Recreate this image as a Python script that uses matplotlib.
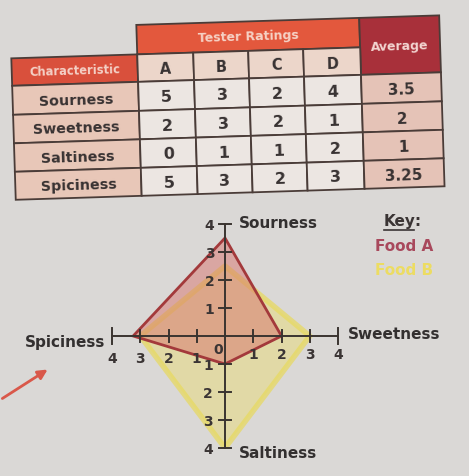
import matplotlib
matplotlib.use('Agg')
import matplotlib.pyplot as plt
from matplotlib.patches import Rectangle, Polygon
from matplotlib.transforms import Affine2D

# ---------------- data ----------------
characteristics = ['Sourness', 'Sweetness', 'Saltiness', 'Spiciness']
testers = ['A', 'B', 'C', 'D']
tester_a = [5, 2, 0, 5]
tester_b = [3, 3, 1, 3]
tester_c = [2, 2, 1, 2]
tester_d = [4, 1, 2, 3]
average_labels = ['3.5', '2', '1', '3.25']
food_a = [3.5, 2, 1, 3.25]      # sourness, sweetness, saltiness, spiciness
food_b = [2.5, 3, 4, 3]
axis_ticks = [1, 2, 3, 4]
foods = ['Food A', 'Food B']

W, H = 469, 477
fig = plt.figure(figsize=(W / 100, H / 100), dpi=100)
fig.patch.set_facecolor('#dad8d6')

# ---------------- table (pixel-coordinate axes) ----------------
bg = fig.add_axes([0, 0, 1, 1])
bg.set_xlim(0, W)
bg.set_ylim(H, 0)
bg.axis('off')
rot = Affine2D().rotate_deg_around(230, 110, -1.8) + bg.transData
EDGE = '#4a3c38'
DARK = '#383232'


def cell(x0, y0, x1, y1, fc):
    bg.add_patch(Rectangle((x0, y0), x1 - x0, y1 - y0, facecolor=fc,
                           edgecolor=EDGE, linewidth=1.3, transform=rot))


def txt(x, y, s, color=DARK, size=10):
    bg.text(x, y, s, color=color, fontsize=size, fontweight='bold',
            ha='center', va='center', rotation=1.8, rotation_mode='anchor',
            transform=rot)


col_x = [13, 139, 195, 250, 305, 362, 442]
row_y = [80, 109, 137.5, 166, 194]
top_y, head_y = 23, 52.5

cell(col_x[1], top_y, col_x[5], head_y, '#e3583d')
txt((col_x[1] + col_x[5]) / 2, (top_y + head_y) / 2, 'Tester Ratings', '#f6d2c6', 9)
cell(col_x[5], top_y, col_x[6], row_y[0], '#a8303a')
txt((col_x[5] + col_x[6]) / 2, (top_y + row_y[0]) / 2, 'Average', '#f3d6d2', 9)
cell(col_x[0], head_y, col_x[1], row_y[0], '#d9503c')
txt((col_x[0] + col_x[1]) / 2, (head_y + row_y[0]) / 2, 'Characteristic', '#f4d0c6', 8.3)
for j, t in enumerate(testers):
    cell(col_x[j + 1], head_y, col_x[j + 2], row_y[0], '#ecd6ca')
    txt((col_x[j + 1] + col_x[j + 2]) / 2, (head_y + row_y[0]) / 2 + 1, t, DARK, 10.5)

ratings = [tester_a, tester_b, tester_c, tester_d]
for i, ch in enumerate(characteristics):
    y0, y1 = row_y[i], row_y[i + 1]
    yc = (y0 + y1) / 2 + 1
    cell(col_x[0], y0, col_x[1], y1, '#e8c7b8')
    txt((col_x[0] + col_x[1]) / 2, yc, ch, DARK, 10.3)
    for j in range(4):
        cell(col_x[j + 1], y0, col_x[j + 2], y1, '#ece6e2')
        txt((col_x[j + 1] + col_x[j + 2]) / 2, yc, str(ratings[j][i]), DARK, 11.5)
    cell(col_x[5], y0, col_x[6], y1, '#e5c3b7')
    txt((col_x[5] + col_x[6]) / 2, yc, average_labels[i], DARK, 11)

# arrow at lower left
bg.annotate('', xy=(50, 369), xytext=(0, 401),
            arrowprops=dict(arrowstyle='-|>', color='#d9584a', lw=2,
                            mutation_scale=14))

# key
bg.text(384, 222, 'Key:', color='#3a3434', fontsize=11, fontweight='bold',
        ha='left', va='center')
bg.plot([384, 414], [231, 231], color='#3a3434', lw=1.2)
bg.text(375, 247, foods[0], color='#a8485c', fontsize=11, fontweight='bold',
        ha='left', va='center')
bg.text(375, 271, foods[1], color='#ecdc62', fontsize=11, fontweight='bold',
        ha='left', va='center')

# ---------------- radar-like chart ----------------
ax = fig.add_axes([112 / W, (H - 449) / H, 226 / W, 224 / H])
ax.set_xlim(-4, 4)
ax.set_ylim(-4, 4)
ax.axis('off')
ax.patch.set_alpha(0)


def verts(v):
    return [(0, v[0]), (v[1], 0), (0, -v[2]), (-v[3], 0)]


ax.add_patch(Polygon(verts(food_b), closed=True, facecolor='#ecdc60',
                     alpha=0.4, edgecolor='none', zorder=1))
ax.add_patch(Polygon(verts(food_b), closed=True, facecolor='none',
                     edgecolor='#e8d95c', lw=4, alpha=0.7, zorder=1.5,
                     joinstyle='round'))
ax.add_patch(Polygon(verts(food_a), closed=True, facecolor='#d8706a',
                     alpha=0.48, edgecolor='none', zorder=2))
ax.add_patch(Polygon(verts(food_a), closed=True, facecolor='none',
                     edgecolor='#a3393b', lw=2, zorder=2.5))

AX = '#3a3430'
ax.plot([-4, 4], [0, 0], color=AX, lw=1.4, zorder=3, clip_on=False)
ax.plot([0, 0], [-4, 4], color=AX, lw=1.4, zorder=3, clip_on=False)
for e in (-4, 4):
    ax.plot([e, e], [-0.28, 0.28], color=AX, lw=1.4, zorder=3, clip_on=False)
for t in axis_ticks[:-1]:
    for s in (-1, 1):
        ax.plot([s * t, s * t], [-0.2, 0.2], color=AX, lw=1.4, zorder=3)
for t in axis_ticks:
    for s in (-1, 1):
        ax.plot([-0.2, 0.2], [s * t, s * t], color=AX, lw=1.4, zorder=3,
                clip_on=False)

tk = dict(color='#3a3434', fontsize=10, fontweight='bold', ha='center',
          va='center', zorder=4, clip_on=False)
for t in axis_ticks:
    ax.text(-0.55, t - 0.05, str(t), **tk)
    ax.text(-0.6, -t - 0.05, str(t), **tk)
    ax.text(t, -0.65, str(t), **tk)
    ax.text(-t, -0.78, str(t), **tk)
ax.text(-0.25, -0.45, '0', **tk)

lab = dict(color='#333030', fontsize=11, fontweight='bold', zorder=4,
           clip_on=False, va='center')
ax.text(0.5, 4.05, characteristics[0], ha='left', **lab)
ax.text(4.35, 0.1, characteristics[1], ha='left', **lab)
ax.text(0.5, -4.15, characteristics[2], ha='left', **lab)
ax.text(-4.25, -0.2, characteristics[3], ha='right', **lab)

fig.savefig('out.png', dpi=100, facecolor=fig.get_facecolor())
